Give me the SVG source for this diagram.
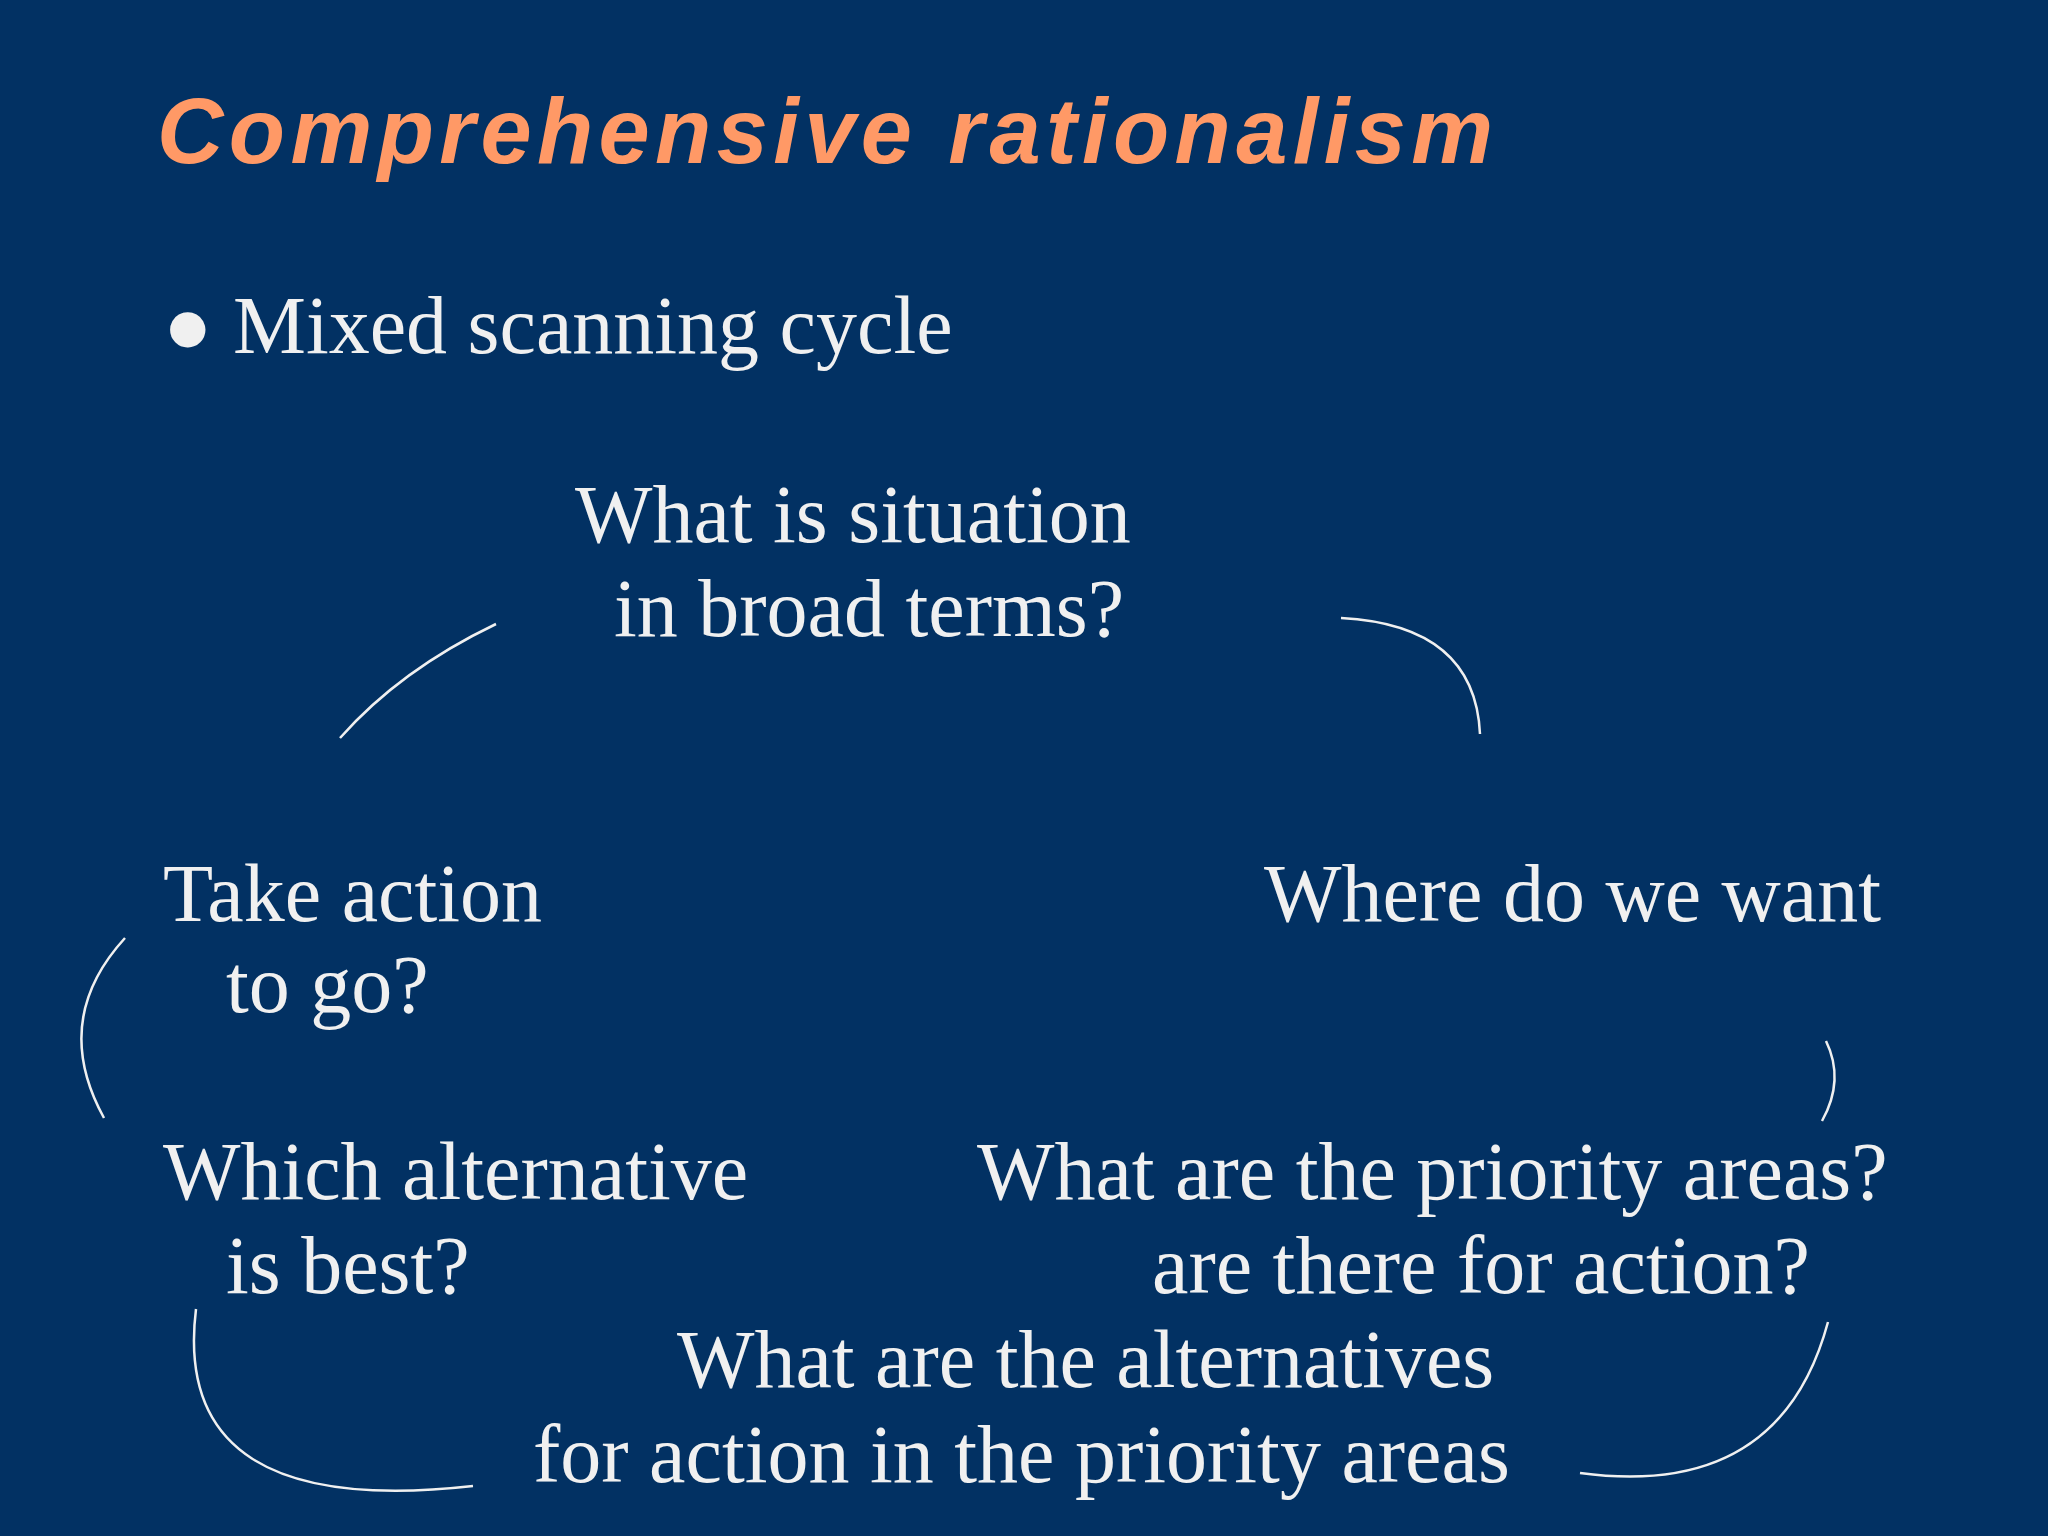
<svg xmlns="http://www.w3.org/2000/svg" width="2048" height="1536" viewBox="0 0 2048 1536">
<style>
.t{font-family:"Liberation Serif","Times New Roman",serif;font-size:82px;fill:#F0F0F0}
.a{fill:none;stroke:#F0F0F0;stroke-width:2.5}
</style>
<rect width="2048" height="1536" fill="#023163"/>
<text x="157" y="163" font-family="Liberation Sans,Arial,sans-serif" font-weight="bold" font-style="italic" font-size="92" fill="#FF9966" textLength="1336">Comprehensive rationalism</text>
<text class="t" x="163" y="353">● Mixed scanning cycle</text>
<g id="n1"><text class="t" x="575" y="542">What is situation</text><text class="t" x="614" y="636">in broad terms?</text></g>
<g id="n2"><text class="t" x="163" y="921">Take action</text><text class="t" x="226" y="1012">to go?</text></g>
<g id="n3"><text class="t" x="1264" y="921">Where do we want</text></g>
<g id="n4"><text class="t" x="163" y="1199">Which alternative</text><text class="t" x="226" y="1293">is best?</text></g>
<g id="n5"><text class="t" x="977" y="1199">What are the priority areas?</text><text class="t" x="1152" y="1293">are there for action?</text></g>
<g id="n6"><text class="t" x="677" y="1387">What are the alternatives</text><text class="t" x="533" y="1482">for action in the priority areas</text></g>
<g id="connectors">
<path class="a" d="M496 624 Q400 670 340 738"/>
<path class="a" d="M1341 618 Q1475 625 1480 734"/>
<path class="a" d="M125 938 Q50 1020 104 1118"/>
<path class="a" d="M1826 1041 Q1845 1080 1822 1121"/>
<path class="a" d="M1828 1322 Q1780 1500 1580 1473"/>
<path class="a" d="M196 1309 Q170 1520 473 1486"/>
</g>
</svg>
